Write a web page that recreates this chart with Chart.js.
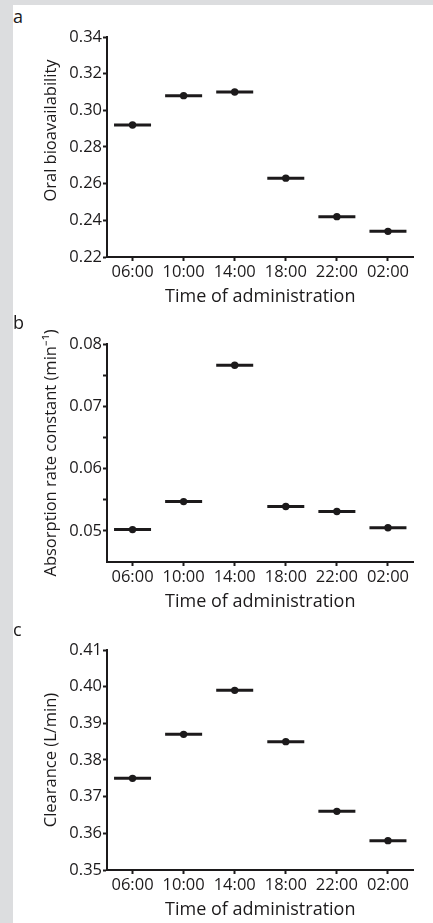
<!DOCTYPE html>
<html>
<head>
<meta charset="utf-8">
<script src="https://cdn.jsdelivr.net/npm/chart.js@4"></script>
<style>
  html, body { margin: 0; padding: 0; background: #dcdddf; overflow: hidden; }
  #sheet { position: absolute; left: 13px; top: 5px; width: 420px; height: 918px; background: #fff; overflow: hidden; }
  .panel { position: absolute; left: 0; }
  .tag { position: absolute; left: 0; font: 18px/20px "Open Sans", sans-serif; color: #1c1a1b; }
</style>
</head>
<body>
<div id="sheet">
  <div class="tag" style="top:1px">a</div>
  <canvas class="panel" id="chartA" width="422" height="306" style="top:0px"></canvas>
  <div class="tag" style="top:307px">b</div>
  <canvas class="panel" id="chartB" width="422" height="306" style="top:307px"></canvas>
  <div class="tag" style="top:614px">c</div>
  <canvas class="panel" id="chartC" width="422" height="306" style="top:613px"></canvas>
</div>
<script>
const times = ['06:00', '10:00', '14:00', '18:00', '22:00', '02:00'];
const oralBioavailability = [0.292, 0.308, 0.310, 0.263, 0.242, 0.234];
const absorptionRate = [0.0502, 0.0547, 0.0766, 0.0539, 0.0531, 0.0505];
const clearance = [0.375, 0.387, 0.399, 0.385, 0.366, 0.358];

// y axis ranges: [min, max, step]
const bioRange = [0.22, 0.34, 0.02];
const absRange = [0.045, 0.08, 0.005];
const clRange = [0.35, 0.41, 0.01];

const ink = '#1c1a1b';
Chart.defaults.font.family = '"Open Sans", sans-serif';
Chart.defaults.font.size = 16.5;
Chart.defaults.color = ink;

function makePanel(id, values, yTitle, range, padBottom, opts = {}) {
  const [min, max, step] = range;
  return new Chart(document.getElementById(id), {
    type: 'line',
    data: {
      labels: times,
      datasets: [
        // dot on each estimate
        {
          data: values, showLine: false, pointStyle: 'circle',
          pointRadius: 3.7, pointHoverRadius: 3.7, pointBorderWidth: 0,
          pointBackgroundColor: ink, pointBorderColor: ink
        },
        // horizontal bar through it
        {
          data: values, showLine: false, pointStyle: 'line',
          pointRadius: 18.5, pointHoverRadius: 18.5, pointBorderWidth: 3,
          pointBorderColor: ink, pointBackgroundColor: ink
        }
      ]
    },
    options: {
      responsive: false,
      animation: false,
      events: [],
      clip: false,
      layout: { padding: { top: 32, bottom: padBottom, left: 0, right: 0 } },
      plugins: { legend: { display: false }, tooltip: { enabled: false } },
      scales: {
        x: {
          offset: true,
          grid: { offset: false, drawOnChartArea: false, tickLength: 4, tickWidth: 2, tickColor: ink },
          border: { color: ink, width: 2 },
          ticks: { padding: 1, maxRotation: 0, autoSkip: false },
          title: { display: true, text: 'Time of administration', font: { size: 18 }, padding: 0 },
          afterFit: s => { s.height = 51; }
        },
        y: {
          min: min,
          max: max,
          grid: { drawOnChartArea: false, tickLength: 4, tickWidth: 2, tickColor: ink },
          border: { color: ink, width: 2 },
          ticks: {
            stepSize: step,
            padding: 1,
            callback: opts.tickLabel || (v => v.toFixed(2))
          },
          afterBuildTicks: opts.keepTick ? s => { s.ticks = s.ticks.filter(t => opts.keepTick(t.value)); } : undefined,
          title: { display: true, text: yTitle, font: { size: 16.5 }, padding: { top: 28, bottom: 0 } },
          afterFit: s => { s.width = 94; }
        }
      }
    }
  });
}

// leading em spaces lift this title a little above the axis middle
makePanel('chartA', oralBioavailability, '\u2003\u2003Oral bioavailability', bioRange, 3);
makePanel('chartB', absorptionRate, 'Absorption rate constant (min⁻¹)', absRange, 5, {
  // minor ticks every 0.005, labels every 0.01
  tickLabel: v => (Math.round(v * 1000) % 10 === 0 ? v.toFixed(2) : ''),
  keepTick: v => v > 0.0475
});
makePanel('chartC', clearance, 'Clearance (L/min)', clRange, 3);
</script>
</body>
</html>
